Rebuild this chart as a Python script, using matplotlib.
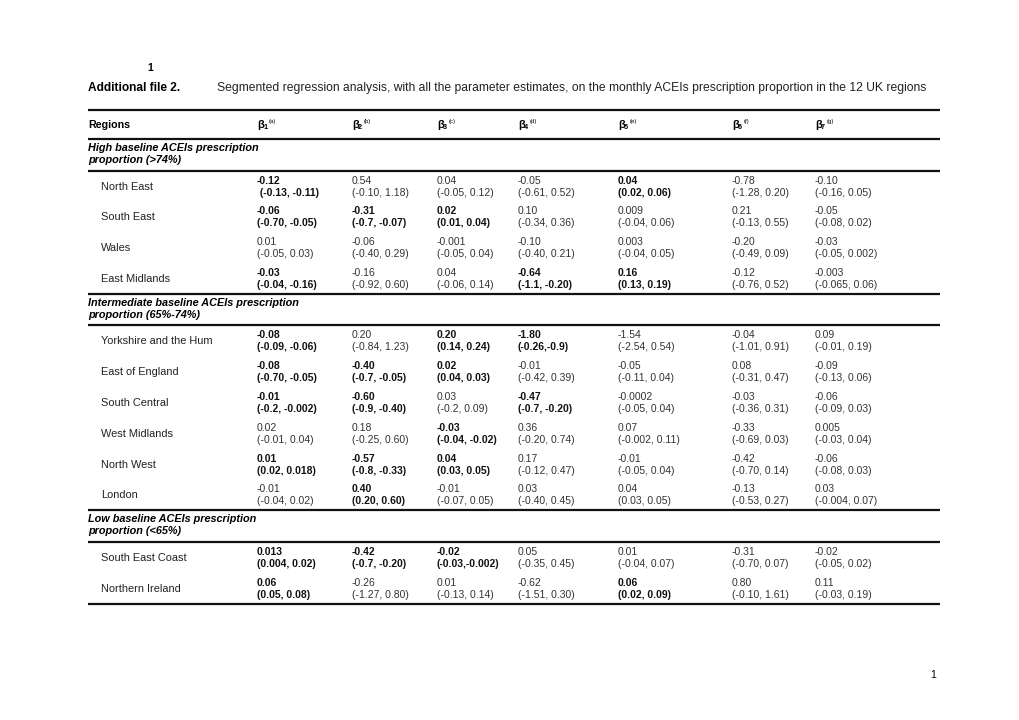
"""
Additional file 2: segmented regression parameter estimates, 12 UK regions
"""
import matplotlib
matplotlib.use('Agg')
import matplotlib.pyplot as plt

plt.rcParams['font.family'] = ['Liberation Sans', 'DejaVu Sans']

caption = ('Segmented regression analysis, with all the parameter estimates, '
           'on the monthly ACEIs prescription proportion in the 12 UK regions')
params = ['1', '2', '3', '4', '5', '6', '7']
notes = ['(a)', '(b)', '(c)', '(d)', '(e)', '(f)', '(g)']

# группы регионов
groups = [
    ('High baseline ACEIs prescription', 'proportion (>74%)'),
    ('Intermediate baseline ACEIs prescription', 'proportion (65%-74%)'),
    ('Low baseline ACEIs prescription', 'proportion (<65%)'),
]

regions_high = ['North East', 'South East', 'Wales', 'East Midlands']
est_high = [
    ['-0.12', '0.54', '0.04', '-0.05', '0.04', '-0.78', '-0.10'],
    ['-0.06', '-0.31', '0.02', '0.10', '0.009', '0.21', '-0.05'],
    ['0.01', '-0.06', '-0.001', '-0.10', '0.003', '-0.20', '-0.03'],
    ['-0.03', '-0.16', '0.04', '-0.64', '0.16', '-0.12', '-0.003'],
]
ci_high = [
    [' (-0.13, -0.11)', '(-0.10, 1.18)', '(-0.05, 0.12)', '(-0.61, 0.52)',
     '(0.02, 0.06)', '(-1.28, 0.20)', '(-0.16, 0.05)'],
    ['(-0.70, -0.05)', '(-0.7, -0.07)', '(0.01, 0.04)', '(-0.34, 0.36)',
     '(-0.04, 0.06)', '(-0.13, 0.55)', '(-0.08, 0.02)'],
    ['(-0.05, 0.03)', '(-0.40, 0.29)', '(-0.05, 0.04)', '(-0.40, 0.21)',
     '(-0.04, 0.05)', '(-0.49, 0.09)', '(-0.05, 0.002)'],
    ['(-0.04, -0.16)', '(-0.92, 0.60)', '(-0.06, 0.14)', '(-1.1, -0.20)',
     '(0.13, 0.19)', '(-0.76, 0.52)', '(-0.065, 0.06)'],
]
bold_high = [
    [1, 0, 0, 0, 1, 0, 0],
    [1, 1, 1, 0, 0, 0, 0],
    [0, 0, 0, 0, 0, 0, 0],
    [1, 0, 0, 1, 1, 0, 0],
]

regions_mid = ['Yorkshire and the Hum', 'East of England', 'South Central',
               'West Midlands', 'North West', 'London']
est_mid = [
    ['-0.08', '0.20', '0.20', '-1.80', '-1.54', '-0.04', '0.09'],
    ['-0.08', '-0.40', '0.02', '-0.01', '-0.05', '0.08', '-0.09'],
    ['-0.01', '-0.60', '0.03', '-0.47', '-0.0002', '-0.03', '-0.06'],
    ['0.02', '0.18', '-0.03', '0.36', '0.07', '-0.33', '0.005'],
    ['0.01', '-0.57', '0.04', '0.17', '-0.01', '-0.42', '-0.06'],
    ['-0.01', '0.40', '-0.01', '0.03', '0.04', '-0.13', '0.03'],
]
ci_mid = [
    ['(-0.09, -0.06)', '(-0.84, 1.23)', '(0.14, 0.24)', '(-0.26,-0.9)',
     '(-2.54, 0.54)', '(-1.01, 0.91)', '(-0.01, 0.19)'],
    ['(-0.70, -0.05)', '(-0.7, -0.05)', '(0.04, 0.03)', '(-0.42, 0.39)',
     '(-0.11, 0.04)', '(-0.31, 0.47)', '(-0.13, 0.06)'],
    ['(-0.2, -0.002)', '(-0.9, -0.40)', '(-0.2, 0.09)', '(-0.7, -0.20)',
     '(-0.05, 0.04)', '(-0.36, 0.31)', '(-0.09, 0.03)'],
    ['(-0.01, 0.04)', '(-0.25, 0.60)', '(-0.04, -0.02)', '(-0.20, 0.74)',
     '(-0.002, 0.11)', '(-0.69, 0.03)', '(-0.03, 0.04)'],
    ['(0.02, 0.018)', '(-0.8, -0.33)', '(0.03, 0.05)', '(-0.12, 0.47)',
     '(-0.05, 0.04)', '(-0.70, 0.14)', '(-0.08, 0.03)'],
    ['(-0.04, 0.02)', '(0.20, 0.60)', '(-0.07, 0.05)', '(-0.40, 0.45)',
     '(0.03, 0.05)', '(-0.53, 0.27)', '(-0.004, 0.07)'],
]
bold_mid = [
    [1, 0, 1, 1, 0, 0, 0],
    [1, 1, 1, 0, 0, 0, 0],
    [1, 1, 0, 1, 0, 0, 0],
    [0, 0, 1, 0, 0, 0, 0],
    [1, 1, 1, 0, 0, 0, 0],
    [0, 1, 0, 0, 0, 0, 0],
]

regions_low = ['South East Coast', 'Northern Ireland']
est_low = [
    ['0.013', '-0.42', '-0.02', '0.05', '0.01', '-0.31', '-0.02'],
    ['0.06', '-0.26', '0.01', '-0.62', '0.06', '0.80', '0.11'],
]
ci_low = [
    ['(0.004, 0.02)', '(-0.7, -0.20)', '(-0.03,-0.002)', '(-0.35, 0.45)',
     '(-0.04, 0.07)', '(-0.70, 0.07)', '(-0.05, 0.02)'],
    ['(0.05, 0.08)', '(-1.27, 0.80)', '(-0.13, 0.14)', '(-1.51, 0.30)',
     '(0.02, 0.09)', '(-0.10, 1.61)', '(-0.03, 0.19)'],
]
bold_low = [
    [1, 1, 1, 0, 0, 0, 0],
    [1, 0, 0, 0, 1, 0, 0],
]

blocks = [
    (regions_high, est_high, ci_high, bold_high),
    (regions_mid, est_mid, ci_mid, bold_mid),
    (regions_low, est_low, ci_low, bold_low),
]

# разметка страницы в пикселях
col_x = [257, 352, 437, 518, 618, 732, 815]
x_left, x_right = 88, 940
pitch = 30.8

fig = plt.figure(figsize=(10.2, 7.2), dpi=100)
ax = fig.add_axes([0, 0, 1, 1])
ax.set_xlim(0, 1020)
ax.set_ylim(720, 0)
ax.axis('off')


def rule(y, lw=1.6):
    ax.hlines(y, x_left, x_right, colors='#111111', linewidth=lw)


ax.text(147, 68, '1', fontsize=7.5, fontweight='bold', va='center')
ax.text(x_left, 88, 'Additional file 2.', fontsize=8.6, fontweight='bold', va='center')
ax.text(217, 88, caption, fontsize=8.75, va='center', color='#222222')
rule(110)

ax.text(x_left, 125, 'Regions', fontsize=7.7, fontweight='bold', va='center')
for x, p, n in zip(col_x, params, notes):
    ax.text(x, 125, 'β', fontsize=8.2, fontweight='bold', va='center')
    ax.text(x + 6, 127.5, p, fontsize=5.2, fontweight='bold', va='center')
    ax.text(x + 11.5, 122, n, fontsize=4.3, va='center')
y_line = 139
rule(y_line)

for (title1, title2), (names, est, ci, bold) in zip(groups, blocks):
    ax.text(x_left, y_line + 9, title1, fontsize=7.8, fontweight='bold',
            style='italic', va='center')
    ax.text(x_left, y_line + 21, title2, fontsize=7.8, fontweight='bold',
            style='italic', va='center')
    y_line += 31.5
    rule(y_line)
    y0 = y_line + 10
    for i, name in enumerate(names):
        y = y0 + i * pitch
        ax.text(101, y + 6, name, fontsize=7.9, va='center', color='#222222')
        for j, x in enumerate(col_x):
            if bold[i][j]:
                kw = dict(fontweight='bold', color='#111111')
            else:
                kw = dict(fontweight='normal', color='#333333')
            ax.text(x, y, est[i][j], fontsize=7.45, va='center', **kw)
            ax.text(x, y + 12, ci[i][j], fontsize=7.45, va='center', **kw)
    y_line = y0 + (len(names) - 1) * pitch + 21
    rule(y_line)

ax.text(930, 675, '1', fontsize=7.5, va='center')

fig.savefig('out.png', dpi=100)
